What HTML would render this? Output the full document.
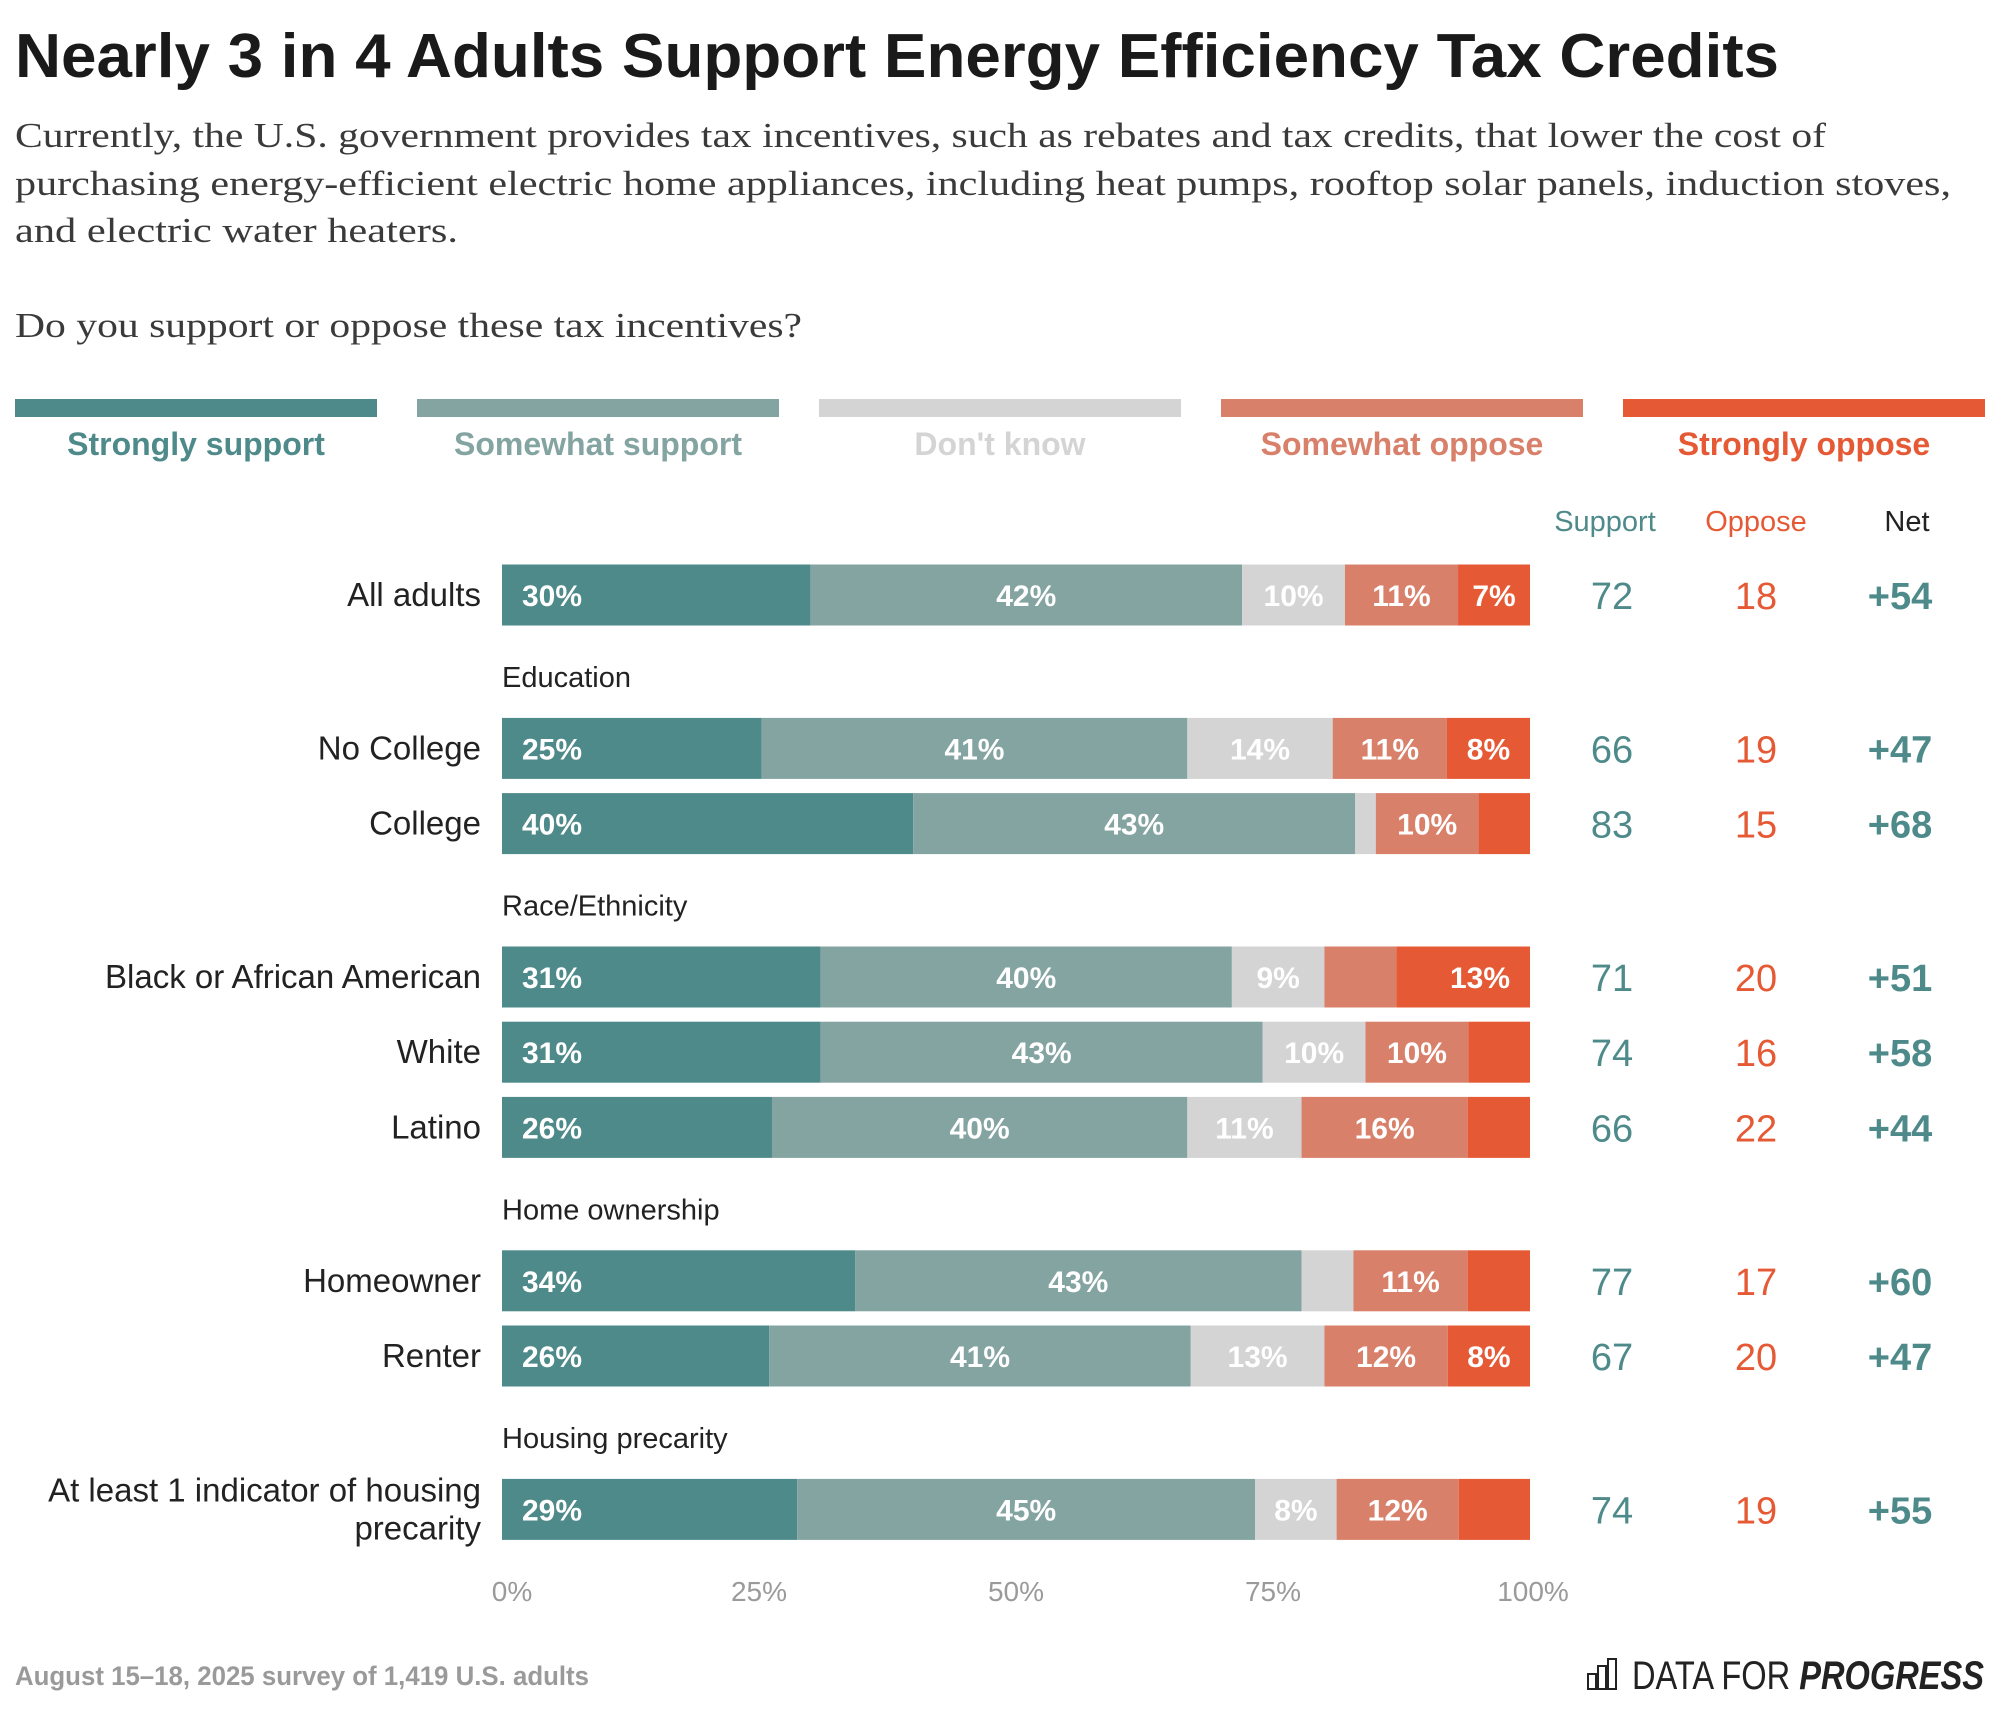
<!DOCTYPE html>
<html><head><meta charset="utf-8"><style>
html,body{margin:0;padding:0;background:#fff;}
svg{display:block;font-family:"Liberation Sans",sans-serif;}
</style></head><body>
<svg id="chart" width="1999" height="1710" viewBox="0 0 1999 1710" xmlns="http://www.w3.org/2000/svg">
<text x="15" y="77" font-size="62" font-weight="bold" fill="#1a1a1a" textLength="1764" lengthAdjust="spacingAndGlyphs">Nearly 3 in 4 Adults Support Energy Efficiency Tax Credits</text>
<g font-family="'Liberation Serif',serif" font-size="35" fill="#3a3a3a">
<text x="15" y="147" textLength="1811" lengthAdjust="spacingAndGlyphs">Currently, the U.S. government provides tax incentives, such as rebates and tax credits, that lower the cost of</text>
<text x="15" y="195" textLength="1936" lengthAdjust="spacingAndGlyphs">purchasing energy-efficient electric home appliances, including heat pumps, rooftop solar panels, induction stoves,</text>
<text x="15" y="242" textLength="443" lengthAdjust="spacingAndGlyphs">and electric water heaters.</text>
<text x="15" y="337" textLength="787" lengthAdjust="spacingAndGlyphs">Do you support or oppose these tax incentives?</text>
</g>
<g id="legend"></g>
<g id="headers" font-size="29" text-anchor="middle">
<text x="1605" y="531" fill="#4f8a8b">Support</text>
<text x="1756" y="531" fill="#e55a35">Oppose</text>
<text x="1907" y="531" fill="#222">Net</text>
</g>
<g id="rows"></g>
<g id="axis"></g>
<text x="15" y="1685" font-size="27" font-weight="bold" fill="#9a9a9a" textLength="574" lengthAdjust="spacingAndGlyphs">August 15–18, 2025 survey of 1,419 U.S. adults</text>
<g>
<g fill="none" stroke="#222" stroke-width="2">
<rect x="1588" y="1674" width="8" height="15"/><rect x="1598" y="1666" width="8" height="23"/><rect x="1608" y="1659" width="8" height="30"/>
</g>
<text x="1632" y="1689" font-size="40" fill="#222" textLength="352" lengthAdjust="spacingAndGlyphs"><tspan font-weight="normal">DATA FOR </tspan><tspan font-weight="bold" font-style="italic">PROGRESS</tspan></text>
</g>
</svg>
<script>
const categories = ["All adults","No College","College","Black or African American","White","Latino","Homeowner","Renter","At least 1 indicator of housing precarity"];
const groups = [null,"Education",null,"Race/Ethnicity",null,null,"Home ownership",null,"Housing precarity"];
const strongSupport = [30,25,40,31,31,26,34,26,29];
const someSupport = [42,41,43,40,43,40,43,41,45];
const dontKnow = [10,14,2,9,10,11,5,13,8];
const someOppose = [11,11,10,7,10,16,11,12,12];
const strongOppose = [7,8,5,13,6,6,6,8,7];
const supportTotal = [72,66,83,71,74,66,77,67,74];
const opposeTotal = [18,19,15,20,16,22,17,20,19];
const netValues = ["+54","+47","+68","+51","+58","+44","+60","+47","+55"];
const showLabel = [[1,1,1,1,1],[1,1,1,1,1],[1,1,0,1,0],[1,1,1,0,1],[1,1,1,1,0],[1,1,1,1,0],[1,1,0,1,0],[1,1,1,1,1],[1,1,1,1,0]];
const legendLabels = ["Strongly support","Somewhat support","Don't know","Somewhat oppose","Strongly oppose"];
const ticks = [0,25,50,75,100];

const colors = ["#4f8a8b","#84a4a1","#d4d4d4","#d8806a","#e55a35"];
const NS = "http://www.w3.org/2000/svg";
const X0 = 502, X1 = 1530;
const xs = v => X0 + (X1 - X0) * v / 100;
function mk(tag, attrs, parent, txt){const e=document.createElementNS(NS,tag);for(const k in attrs)e.setAttribute(k,attrs[k]);if(txt!=null)e.textContent=txt;parent.appendChild(e);return e;}

const lg = document.getElementById('legend');
legendLabels.forEach((l,i)=>{
  const x = 15 + i*402;
  const r = mk('rect',{x:x,y:399,width:362,height:18,fill:colors[i]},lg);
  
  
  const t = mk('text',{x:x+181,y:455,'font-size':32,'font-weight':'bold','text-anchor':'middle',fill:colors[i]},lg,l);
  
  
});

const rg = document.getElementById('rows');
const series = [strongSupport,someSupport,dontKnow,someOppose,strongOppose];
let y = 595 - 75.2;
categories.forEach((c,i)=>{
  if(groups[i]){
    y += 82;
    const g = mk('text',{x:502,y:y+10,'font-size':29,fill:'#222'},rg,groups[i]);
    
    
    y += 71.4;
  } else y += 75.2;
  const row = mk('g',{},rg);
  
  
  if(c.length>30){
    const t1 = mk('text',{x:481,y:y-8,'font-size':33,'text-anchor':'end',fill:'#222'},row,"At least 1 indicator of housing");
    
    
    const t2 = mk('text',{x:481,y:y+30,'font-size':33,'text-anchor':'end',fill:'#222'},row,"precarity");
    
    
  } else {
    const t = mk('text',{x:481,y:y+11,'font-size':33,'text-anchor':'end',fill:'#222'},row,c);
    
    
  }
  const total = series.reduce((a,s)=>a+s[i],0);
  let cum = 0;
  series.forEach((s,k)=>{
    const v = s[i];
    const xa = xs(cum/total*100), xb = xs((cum+v)/total*100);
    const b = mk('rect',{x:xa,y:y-30.5,width:Math.max(0,xb-xa),height:61,fill:colors[k]},row);
    
    
    if(showLabel[i][k]){
      let tx=(xa+xb)/2, anchor='middle';
      if(k===0){tx=xa+20;anchor='start';}
      if(k===4 && xb-xa>90){tx=xb-20;anchor='end';}
      const t = mk('text',{x:tx,y:y+11,'font-size':30,'font-weight':'bold','text-anchor':anchor,fill:'#fff'},row,v+'%');
      
      
    }
    cum += v;
  });
  const s1 = mk('text',{x:1612,y:y+14,'font-size':38,'text-anchor':'middle',fill:'#4f8a8b'},row,supportTotal[i]);
  
  
  const s2 = mk('text',{x:1756,y:y+14,'font-size':38,'text-anchor':'middle',fill:'#e55a35'},row,opposeTotal[i]);
  
  
  const s3 = mk('text',{x:1900,y:y+14,'font-size':38,'font-weight':'bold','text-anchor':'middle',fill:'#4f8a8b'},row,netValues[i]);
  
  
});

const ax = document.getElementById('axis');
ticks.forEach(t=>{
  const e = mk('text',{x:xs(t)+(t===0?10:t===100?3:0),y:1601,'font-size':28,'text-anchor':'middle',fill:'#9a9a9a'},ax,t+'%');
  
  
});
</script>
</body></html>
